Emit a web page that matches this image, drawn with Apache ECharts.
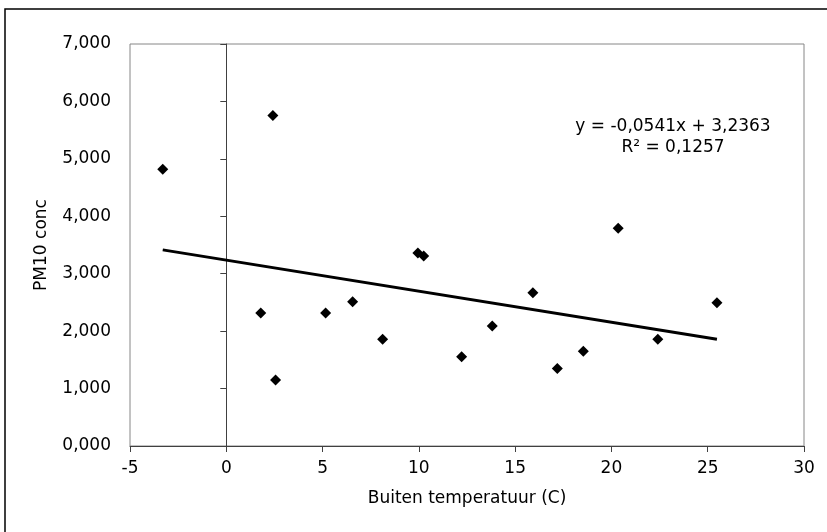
<!DOCTYPE html>
<html>
<head>
<meta charset="utf-8">
<script src="https://cdn.jsdelivr.net/npm/echarts@6/dist/echarts.min.js"></script>
<style>html,body{margin:0;padding:0;background:#fff}#c{width:827px;height:532px}</style>
</head>
<body>
<div id="c"></div>
<script>
// Data
const tempX = [-3.30, 2.42, 1.79, 2.56, 5.16, 6.56, 8.12, 9.95, 10.25, 12.22, 13.81, 15.92, 17.19, 18.54, 20.35, 22.41, 25.48];
const pm10Y = [4.82, 5.755, 2.314, 1.151, 2.314, 2.51, 1.86, 3.36, 3.31, 1.552, 2.088, 2.669, 1.349, 1.651, 3.79, 1.861, 2.494];
const trendSlope = -0.0541;
const trendIntercept = 3.2363;
const eqLines = ['y = -0,0541x + 3,2363', 'R² = 0,1257'];
const xTicks = [-5, 0, 5, 10, 15, 20, 25, 30];
const yTicks = [0, 1, 2, 3, 4, 5, 6, 7];
const xTitle = 'Buiten temperatuur (C)';
const yTitle = 'PM10 conc';

const points = tempX.map((x, i) => [x, pm10Y[i]]);
const xmin = Math.min(...tempX), xmax = Math.max(...tempX);
const trend = [[xmin, trendSlope * xmin + trendIntercept], [xmax, trendSlope * xmax + trendIntercept]];

const FONT = 'DejaVu Sans';
const chart = echarts.init(document.getElementById('c'), null, {renderer: 'canvas'});
chart.setOption({
  animation: false,
  backgroundColor: '#fff',
  textStyle: {fontFamily: FONT},
  grid: {left: 130, right: 23, top: 44, bottom: 86, show: true, borderColor: '#868686', borderWidth: 1, containLabel: false},
  xAxis: {
    type: 'value', min: xTicks[0], max: xTicks[xTicks.length - 1], interval: 5,
    axisLine: {onZero: false, lineStyle: {color: '#404040', width: 1}},
    axisTick: {show: true, length: 6, lineStyle: {color: '#404040'}},
    splitLine: {show: false},
    axisLabel: {fontFamily: FONT, fontSize: 17, color: '#000', margin: 14},
    name: xTitle, nameLocation: 'middle', nameGap: 44,
    nameTextStyle: {fontFamily: FONT, fontSize: 17, color: '#000'}
  },
  yAxis: [{
    type: 'value', min: yTicks[0], max: yTicks[yTicks.length - 1], interval: 1, position: 'left',
    axisLine: {show: false, onZero: false},
    axisTick: {show: false},
    splitLine: {show: false},
    axisLabel: {fontFamily: FONT, fontSize: 17, color: '#000', margin: 19,
      formatter: v => v.toFixed(3).replace('.', ',')},
    name: yTitle, nameLocation: 'middle', nameGap: 80,
    nameTextStyle: {fontFamily: FONT, fontSize: 17, color: '#000'}
  }, {
    type: 'value', min: yTicks[0], max: yTicks[yTicks.length - 1], interval: 1, position: 'left',
    axisLine: {show: true, onZero: true, onZeroAxisIndex: 0, lineStyle: {color: '#404040', width: 1}},
    axisTick: {show: true, length: 6, inside: false, lineStyle: {color: '#404040'}},
    axisLabel: {show: false},
    splitLine: {show: false}
  }],
  series: [{
    type: 'scatter', data: points, symbol: 'diamond', symbolSize: 11,
    itemStyle: {color: '#000', opacity: 1}, z: 3
  }, {
    type: 'line', data: trend, symbol: 'none', lineStyle: {color: '#000', width: 3}, z: 2
  }],
  graphic: [
    {type: 'rect', shape: {x: 5, y: 9, width: 900, height: 600}, style: {fill: 'none', stroke: '#000', lineWidth: 1.5}, z: 100, silent: true},
    {type: 'text', x: 673, y: 137, z: 100, style: {text: eqLines.join('\n'), font: '17px "DejaVu Sans"', fill: '#000', align: 'center', verticalAlign: 'middle', lineHeight: 21}}
  ]
});
</script>
</body>
</html>
